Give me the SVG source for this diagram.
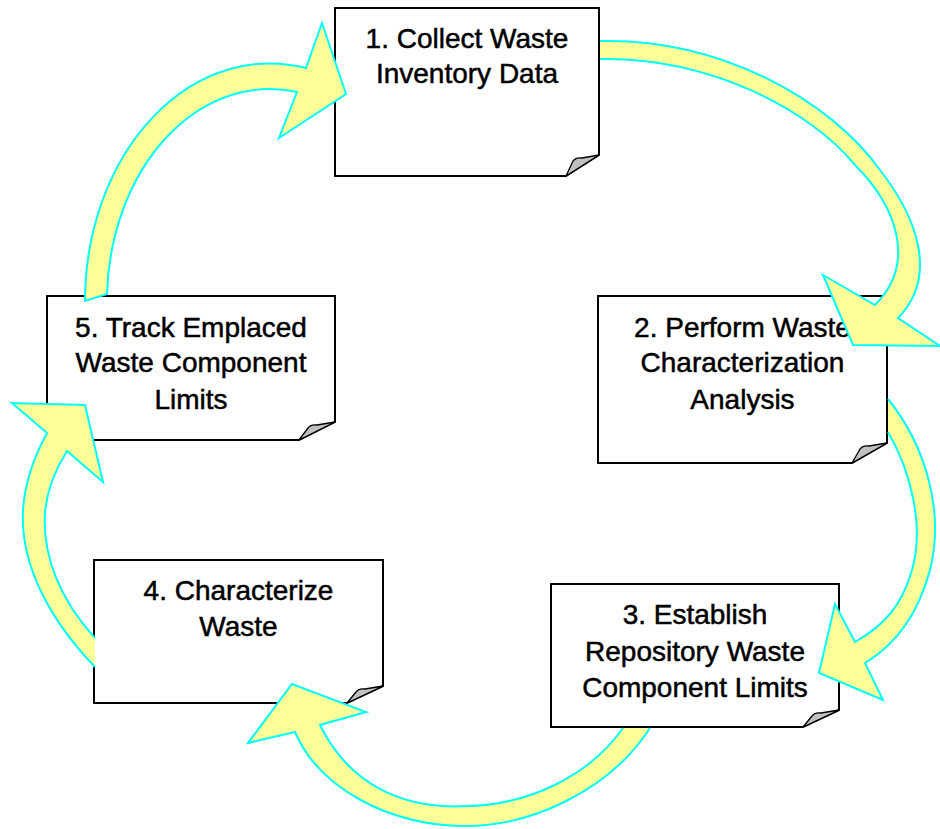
<svg xmlns="http://www.w3.org/2000/svg" width="940" height="829" viewBox="0 0 940 829">
<style>
.box{fill:#FFFFFF;stroke:#000000;stroke-width:2;stroke-linejoin:miter}
.fold{fill:#C0C0C0;stroke:#000000;stroke-width:1.3;stroke-linejoin:round}
.lbl{font-family:"Liberation Sans",Arial,sans-serif;font-size:28px;fill:#000000;stroke:#000000;stroke-width:0.5;text-anchor:middle}
.af{fill:#FFFF99;stroke:none}
.as{fill:none;stroke:#00FFFF;stroke-width:2;stroke-linejoin:miter}
</style>
<rect width="940" height="829" fill="#FFFFFF"/>
<g id="node1">
<path class="box" d="M335,8 H599 V155 L566,176 H335 Z"/>
<path class="fold" d="M599,155 L582,158 Q576,157 573,161 L566,176 Z"/>
<text class="lbl" x="467" y="48">1. Collect Waste</text>
<text class="lbl" x="467" y="83">Inventory Data</text>
</g>
<g id="node2">
<path class="box" d="M598,296 H887 V443 L852,463 H598 Z"/>
<path class="fold" d="M887,443 L869,446 Q863,445 860,449 L852,463 Z"/>
<text class="lbl" x="742.5" y="337">2. Perform Waste</text>
<text class="lbl" x="742.5" y="372">Characterization</text>
<text class="lbl" x="742.5" y="409">Analysis</text>
</g>
<g id="node3">
<path class="box" d="M551,584 H839 V710 L803,727 H551 Z"/>
<path class="fold" d="M839,710 L821,713 Q815,712 812,716 L803,727 Z"/>
<text class="lbl" x="695" y="624">3. Establish</text>
<text class="lbl" x="695" y="661">Repository Waste</text>
<text class="lbl" x="695" y="697">Component Limits</text>
</g>
<g id="node4">
<path class="box" d="M94,560 H383 V686 L347,703 H94 Z"/>
<path class="fold" d="M383,686 L365,689 Q359,688 356,692 L347,703 Z"/>
<text class="lbl" x="238.5" y="600">4. Characterize</text>
<text class="lbl" x="238.5" y="636">Waste</text>
</g>
<g id="node5">
<path class="box" d="M47,296 H335 V422 L299,440 H47 Z"/>
<path class="fold" d="M335,422 L317,425 Q311,424 308,428 L299,440 Z"/>
<text class="lbl" x="191" y="337">5. Track Emplaced</text>
<text class="lbl" x="191" y="372">Waste Component</text>
<text class="lbl" x="191" y="409">Limits</text>
</g>
<g id="connectors">
<path class="af" d="M85,301 A185,238 0 0 1 306,68 L322,23 L346,94 L279,138 L297,92 A163,213 0 0 0 107,294 Z"/>
<path class="as" d="M85,301 A185,238 0 0 1 306,68 L322,23 L346,94 L279,138 L297,92 A163,213 0 0 0 107,294 Z"/>
<path class="af" d="M600,41 C720,38 830,100 880,170 C915,215 940,275 898,318 L940,346 L853,345 L823,275 L875,305 C918,262 895,205 855,165 C810,110 710,57 600,59 Z"/>
<path class="as" d="M600,41 C720,38 830,100 880,170 C915,215 940,275 898,318 L940,346 L853,345 L823,275 L875,305 C918,262 895,205 855,165 C810,110 710,57 600,59"/>
<path class="af" d="M888,399 C925,445 945,510 930,570 C918,615 895,645 865,663 L883,700 L819,673 L835,604 L855,642 C885,625 902,605 912,570 C925,525 910,470 888,432 Z"/>
<path class="as" d="M888,399 C925,445 945,510 930,570 C918,615 895,645 865,663 L883,700 L819,673 L835,604 L855,642 C885,625 902,605 912,570 C925,525 910,470 888,432"/>
<path class="af" d="M650,728 C610,790 530,828 460,826 C390,824 320,790 295,732 L248,743 L292,684 L366,712 L320,725 C348,782 400,810 467,806 C530,805 590,775 623,728 Z"/>
<path class="as" d="M650,728 C610,790 530,828 460,826 C390,824 320,790 295,732 L248,743 L292,684 L366,712 L320,725 C348,782 400,810 467,806 C530,805 590,775 623,728"/>
<path class="af" d="M95,667 C50,620 20,565 23,510 C25,480 35,455 47,433 L12,403 L85,405 L103,482 L67,451 C55,470 47,490 45,512 C42,555 60,600 95,638 Z"/>
<path class="as" d="M95,667 C50,620 20,565 23,510 C25,480 35,455 47,433 L12,403 L85,405 L103,482 L67,451 C55,470 47,490 45,512 C42,555 60,600 95,638"/>
</g>
</svg>
